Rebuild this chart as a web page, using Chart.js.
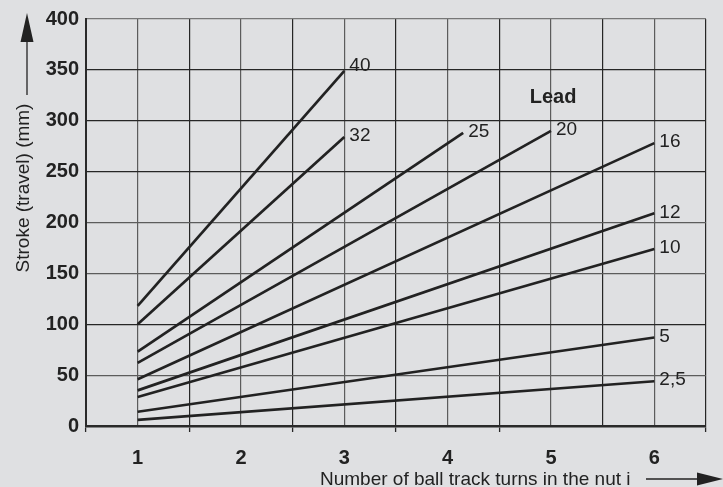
<!DOCTYPE html>
<html>
<head>
<meta charset="utf-8">
<script src="https://cdn.jsdelivr.net/npm/chart.js@4/dist/chart.umd.min.js"></script>
<style>
  html, body { margin: 0; padding: 0; background: #dfe0e2; }
  #wrap { width: 723px; height: 487px; position: relative; }
</style>
</head>
<body>
<div id="wrap"><canvas id="c" width="723" height="487"></canvas></div>
<script>
// ---- data ----
const leads        = ['40', '32', '25', '20', '16', '12', '10', '5', '2,5'];
const startTurns   = [1, 1, 1, 1, 1, 1, 1, 1, 1];
const endTurns     = [3, 3, 4.15, 5, 6, 6, 6, 6, 6];
const startStroke  = [118, 100, 73, 62, 46, 35, 28.5, 14, 6];
const endStroke    = [349, 284, 288, 290, 278, 209, 174, 87, 44];
const xTickLabels  = ['1', '2', '3', '4', '5', '6'];
const yTickValues  = [0, 50, 100, 150, 200, 250, 300, 350, 400];
const yTitle = 'Stroke (travel) (mm)';
const xTitle = 'Number of ball track turns in the nut i';
const legendTitle = 'Lead';

const INK = '#222222';
const BG = '#dfe0e2';

const datasets = leads.map((l, i) => ({
  label: l,
  data: [{x: startTurns[i], y: startStroke[i]}, {x: endTurns[i], y: endStroke[i]}],
  borderColor: INK,
  borderWidth: 2.7,
  pointRadius: 0,
  showLine: true,
  fill: false
}));

const darkY = new Set([350, 300, 250, 100]);

const decor = {
  id: 'decor',
  beforeDraw(chart) {
    const ctx = chart.ctx;
    ctx.save();
    ctx.fillStyle = BG;
    ctx.fillRect(0, 0, chart.width, chart.height);
    ctx.restore();
  },
  afterDraw(chart) {
    const ctx = chart.ctx;
    const xs = chart.scales.x, ys = chart.scales.y;
    ctx.save();
    ctx.fillStyle = INK;
    ctx.strokeStyle = INK;
    // line end labels
    ctx.font = '19px "Liberation Sans", Arial, sans-serif';
    ctx.textAlign = 'left';
    ctx.textBaseline = 'middle';
    leads.forEach((l, i) => {
      const px = xs.getPixelForValue(endTurns[i]);
      const py = ys.getPixelForValue(endStroke[i]);
      const dy = (i === 0) ? -5 : -1;
      ctx.fillText(l, px + 5, py + dy);
    });
    // "Lead"
    ctx.font = 'bold 20px "Liberation Sans", Arial, sans-serif';
    ctx.textAlign = 'center';
    ctx.fillText(legendTitle, xs.getPixelForValue(5.02), ys.getPixelForValue(323));

    // y axis title (rotated) + arrow
    ctx.font = '19px "Liberation Sans", Arial, sans-serif';
    ctx.save();
    ctx.translate(29, 188);
    ctx.rotate(-Math.PI / 2);
    ctx.textAlign = 'center';
    ctx.textBaseline = 'alphabetic';
    ctx.fillText(yTitle, 0, 0);
    ctx.restore();
    ctx.lineWidth = 1.3;
    ctx.beginPath();
    ctx.moveTo(27, 95);
    ctx.lineTo(27, 38);
    ctx.stroke();
    ctx.beginPath();
    ctx.moveTo(27, 13);
    ctx.lineTo(33.5, 42);
    ctx.lineTo(20.5, 42);
    ctx.closePath();
    ctx.fill();

    // x axis title + arrow
    ctx.textAlign = 'left';
    ctx.textBaseline = 'alphabetic';
    ctx.fillText(xTitle, 320, 485);
    ctx.beginPath();
    ctx.moveTo(646, 479);
    ctx.lineTo(700, 479);
    ctx.stroke();
    ctx.beginPath();
    ctx.moveTo(723, 479);
    ctx.lineTo(697, 472.5);
    ctx.lineTo(697, 485.5);
    ctx.closePath();
    ctx.fill();
    ctx.restore();
  }
};

new Chart(document.getElementById('c'), {
  type: 'scatter',
  data: { datasets },
  options: {
    responsive: false,
    animation: false,
    devicePixelRatio: 1,
    layout: { padding: { top: 19, right: 17, left: 0, bottom: 0 } },
    plugins: { legend: { display: false }, tooltip: { enabled: false } },
    scales: {
      x: {
        type: 'linear',
        min: 0.5, max: 6.5,
        afterFit(s) { s.height = 61; },
        afterBuildTicks(s) {
          const t = [];
          for (let v = 0.5; v <= 6.5001; v += 0.5) t.push({ value: v });
          s.ticks = t;
        },
        ticks: {
          autoSkip: false,
          maxRotation: 0,
          padding: 14,
          color: INK,
          font: { family: '"Liberation Sans", Arial, sans-serif', size: 20, weight: 'bold' },
          callback(v) {
            return Number.isInteger(v) && v >= 1 && v <= 6 ? xTickLabels[v - 1] : '';
          }
        },
        grid: {
          drawTicks: true,
          tickLength: 6,
          lineWidth: 1.2,
          color(ctx) {
            const v = ctx.tick ? ctx.tick.value : 0;
            return Number.isInteger(v) ? '#5c5c5c' : '#262626';
          },
          tickColor(ctx) {
            const v = ctx.tick ? ctx.tick.value : 0;
            return (!Number.isInteger(v) && v !== 5.5) ? '#262626' : 'rgba(0,0,0,0)';
          },
          tickWidth: 1.3
        },
        border: { display: true, color: '#2a2a2a', width: 2.5 }
      },
      y: {
        type: 'linear',
        min: 0, max: 400,
        afterFit(s) { s.width = 86; },
        afterBuildTicks(s) { s.ticks = yTickValues.map(v => ({ value: v })); },
        ticks: {
          padding: 7,
          color: INK,
          font: { family: '"Liberation Sans", Arial, sans-serif', size: 20, weight: 'bold' }
        },
        grid: {
          drawTicks: false,
          lineWidth: 1.2,
          color(ctx) {
            const v = ctx.tick ? ctx.tick.value : 0;
            if (v === 400) return '#777777';
            return darkY.has(v) ? '#262626' : '#5c5c5c';
          }
        },
        border: { display: true, color: '#2a2a2a', width: 2 }
      }
    }
  },
  plugins: [decor]
});
</script>
</body>
</html>
